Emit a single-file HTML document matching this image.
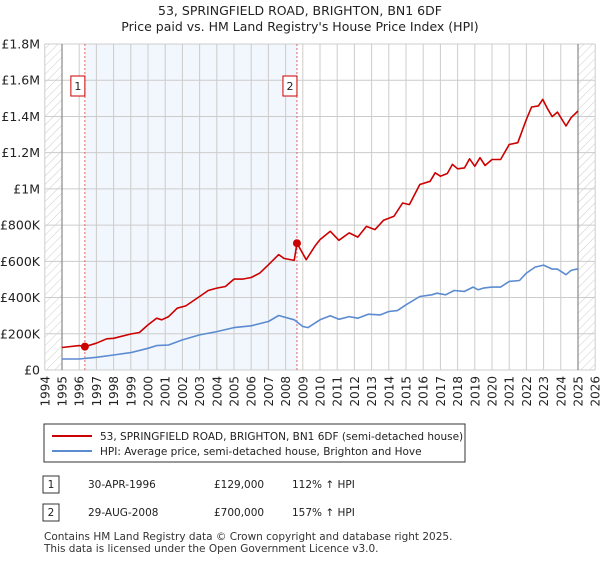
<!DOCTYPE html>
<html><head><meta charset="utf-8"><style>
body{margin:0;background:#fff;font-family:"Liberation Sans","DejaVu Sans",sans-serif;}
svg text{font-family:"DejaVu Sans","Liberation Sans",sans-serif;}
</style></head><body>
<svg id="c" width="600" height="560" xmlns="http://www.w3.org/2000/svg">
<defs><pattern id="hatch" width="6" height="6" patternUnits="userSpaceOnUse" patternTransform="rotate(45)"><line x1="0" y1="0" x2="0" y2="6" stroke="#ccc" stroke-width="1"/></pattern></defs>
<text x="300" y="15" text-anchor="middle" font-size="12.5" fill="#222">53, SPRINGFIELD ROAD, BRIGHTON, BN1 6DF</text>
<text x="300" y="31" text-anchor="middle" font-size="12.5" fill="#222">Price paid vs. HM Land Registry's House Price Index (HPI)</text>
<g id="plot"></g>
<rect x="44" y="424" width="421" height="38" fill="#fff" stroke="#333"/>
<line x1="52" y1="436" x2="92" y2="436" stroke="#cc0000" stroke-width="2"/>
<text x="100" y="440" font-size="10.5" fill="#222">53, SPRINGFIELD ROAD, BRIGHTON, BN1 6DF (semi-detached house)</text>
<line x1="52" y1="451" x2="92" y2="451" stroke="#5b8bd0" stroke-width="2"/>
<text x="100" y="455" font-size="10.5" fill="#222">HPI: Average price, semi-detached house, Brighton and Hove</text>
<g font-size="10.5" fill="#222">
<rect x="43" y="476" width="16" height="17" fill="#fff" stroke="#333"/><text x="51" y="488" text-anchor="middle">1</text>
<text x="88" y="488">30-APR-1996</text><text x="214" y="488">£129,000</text><text x="292" y="488">112% ↑ HPI</text>
<rect x="43" y="504" width="16" height="17" fill="#fff" stroke="#333"/><text x="51" y="516" text-anchor="middle">2</text>
<text x="88" y="516">29-AUG-2008</text><text x="214" y="516">£700,000</text><text x="292" y="516">157% ↑ HPI</text>
</g>
<text x="44" y="540" font-size="10.5" fill="#333">Contains HM Land Registry data © Crown copyright and database right 2025.</text>
<text x="44" y="552" font-size="10.5" fill="#333">This data is licensed under the Open Government Licence v3.0.</text>
</svg>
<script>
const priceT=[1995,1996,1996.33,1997,1997.6,1998,1999,1999.5,2000,2000.5,2000.8,2001.2,2001.7,2002.2,2003,2003.5,2004,2004.5,2005,2005.5,2006,2006.5,2007,2007.6,2007.9,2008.5,2008.66,2009.2,2009.7,2010,2010.6,2011.1,2011.7,2012.2,2012.7,2013.2,2013.7,2014.3,2014.8,2015.2,2015.8,2016.4,2016.7,2017,2017.4,2017.7,2018,2018.4,2018.7,2019,2019.3,2019.6,2020,2020.5,2021,2021.5,2022,2022.3,2022.7,2022.95,2023.2,2023.5,2023.8,2024.3,2024.6,2025];
const priceV=[124,135,129,148,172,175,199,207,249,286,277,295,341,354,406,439,452,461,502,502,511,535,581,637,616,605,700,609,683,720,766,716,757,734,793,775,827,849,922,913,1024,1042,1089,1070,1085,1135,1111,1116,1166,1125,1172,1129,1162,1162,1245,1255,1384,1452,1458,1494,1448,1399,1424,1347,1393,1430];
const hpiT=[1995,1996,1997,1998,1999,2000,2000.5,2001.2,2002,2003,2004,2005,2006,2007,2007.6,2008.5,2009,2009.3,2010,2010.6,2011.1,2011.7,2012.2,2012.8,2013.5,2014,2014.5,2015,2015.8,2016.5,2016.8,2017.3,2017.8,2018.4,2018.9,2019.2,2019.5,2020,2020.5,2021,2021.6,2022,2022.5,2023,2023.5,2023.8,2024.3,2024.6,2025];
const hpiV=[61,61,70,83,96,120,135,138,166,194,212,234,244,268,301,277,240,234,277,299,280,295,286,308,304,323,328,360,406,415,424,415,439,434,458,443,452,458,458,489,494,535,568,579,557,557,526,550,559];
const salesT=[1996.33,2008.66];
const salesV=[129,700];
const salesLabel=['1','2'];
const yTicks=[0,200,400,600,800,1000,1200,1400,1600,1800];
const yTickLabels=['£0','£200K','£400K','£600K','£800K','£1M','£1.2M','£1.4M','£1.6M','£1.8M'];
const years=[];for(let y=1994;y<=2026;y++)years.push(y);

const X0=44.8,X1=595.2,Y0=370,Y1=44;
const xs=t=>X0+(t-1994)/(32)*(X1-X0);
const ys=v=>Y0-v/1800*(Y0-Y1);
const NS='http://www.w3.org/2000/svg';
const g=document.getElementById('plot');
function mk(tag,attrs,parent){const e=document.createElementNS(NS,tag);for(const k in attrs)e.setAttribute(k,attrs[k]);(parent||g).appendChild(e);return e;}

let e=mk('rect',{x:xs(1994),y:Y1,width:xs(1995)-xs(1994),height:Y0-Y1,fill:'url(#hatch)'});


e=mk('rect',{x:xs(2025),y:Y1,width:xs(2026)-xs(2025),height:Y0-Y1,fill:'url(#hatch)'});


e=mk('rect',{x:xs(salesT[0]),y:Y1,width:xs(salesT[1])-xs(salesT[0]),height:Y0-Y1,fill:'#f2f6fd'});



years.forEach(y=>{
 e=mk('line',{x1:xs(y),x2:xs(y),y1:Y1,y2:Y0,stroke:'#ccc','stroke-width':1});
 
 
 e=mk('text',{x:0,y:0,transform:`translate(${xs(y)+4.5},${Y0+6}) rotate(-90)`,'text-anchor':'end','font-size':'12',fill:'#222'});
 e.textContent=y;
 
 
});
yTicks.forEach((v,i)=>{
 e=mk('line',{x1:X0,x2:X1,y1:ys(v),y2:ys(v),stroke:'#ccc','stroke-width':1});
 
 
 e=mk('text',{x:40,y:ys(v)+4.5,'text-anchor':'end','font-size':'12.5',fill:'#222'});
 e.textContent=yTickLabels[i];
 
 
});
[1995,2025].forEach(y=>{e=mk('line',{x1:xs(y),x2:xs(y),y1:Y1,y2:Y0,stroke:'#888','stroke-width':1.2});

});

salesT.forEach((t,i)=>{
 e=mk('line',{x1:xs(t),x2:xs(t),y1:Y1,y2:Y0,stroke:'#e06666','stroke-width':1,'stroke-dasharray':'2,2'});
 
 
 e=mk('rect',{x:xs(t)-14,y:76,width:14,height:20,fill:'#fff',stroke:'#cc0000'});
 
 
 e=mk('text',{x:xs(t)-7,y:90,'text-anchor':'middle','font-size':'11',fill:'#222'});
 e.textContent=salesLabel[i];
 
 
});

function path(T,V,color,name){
 const d=T.map((t,i)=>(i?'L':'M')+xs(t).toFixed(1)+','+ys(V[i]).toFixed(1)).join('');
 const p=mk('path',{d:d,fill:'none',stroke:color,'stroke-width':1.6,'stroke-linejoin':'round'});
 
 
}
path(hpiT,hpiV,'#5b8bd0','hpi-line');
path(priceT,priceV,'#cc0000','price-line');
salesT.forEach((t,i)=>{
 const c=mk('circle',{cx:xs(t),cy:ys(salesV[i]),r:4,fill:'#cc0000'});
 
 
});
</script>
</body></html>
